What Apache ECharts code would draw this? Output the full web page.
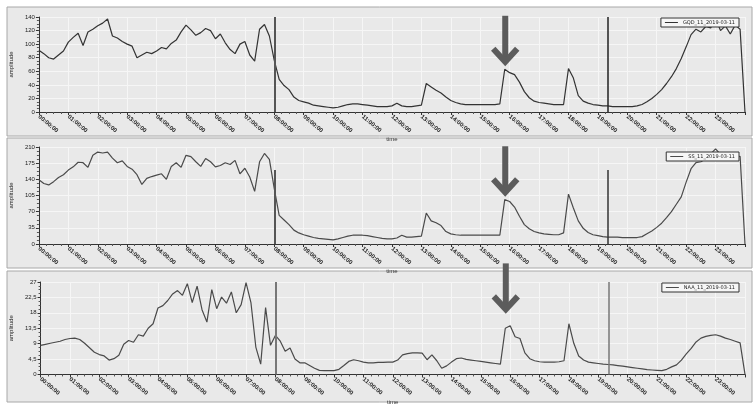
<!DOCTYPE html>
<html>
<head>
<meta charset="utf-8">
<script src="https://cdn.jsdelivr.net/npm/echarts@6/dist/echarts.min.js"></script>
<style>
  html, body { margin: 0; background: #fff; }
  #chart { width: 755px; height: 406px; }
</style>
</head>
<body>
<div id="chart"></div>
<script>
// station names shown in the legends
const seriesNames = ['GQD_11_2019-03-11', 'SS_11_2019-03-11', 'NAA_11_2019-03-11']

// one sample every 10 minutes, 00:00 .. 24:00
const stepHours = 1 / 6

const gqd = [
  91, 86, 80, 78, 84, 90,
  103, 110, 116, 98, 118, 122,
  127, 131, 137, 112, 109, 104,
  100, 97, 80, 84, 88, 86,
  90, 95, 93, 101, 106, 118,
  128, 121, 113, 117, 123, 120,
  108, 115, 102, 92, 86, 100,
  104, 84, 75, 122, 129, 112,
  76, 48, 39, 33, 22, 17,
  15, 13, 10, 9, 8, 7,
  6, 7, 9, 11, 12, 12,
  11, 10, 9, 8, 8, 8,
  9, 13, 9, 8, 8, 9,
  10, 42, 37, 32, 28, 22,
  17, 14, 12, 11, 11, 11,
  11, 11, 11, 11, 12, 63,
  58, 55, 44, 30, 21, 16,
  14, 13, 12, 11, 11, 11,
  64, 50, 24, 16, 13, 11,
  10, 9, 9, 8, 8, 8,
  8, 8, 9, 11, 15, 20,
  26, 33, 42, 52, 64, 79,
  96, 114, 122, 118, 126, 124,
  138, 120, 127, 115, 128, 122,
  0
]

const ss = [
  139, 131, 128, 135, 144, 150,
  160, 167, 177, 176, 166, 192,
  199, 197, 199, 186, 176, 180,
  168, 162, 150, 129, 142, 146,
  149, 152, 140, 168, 176, 166,
  192, 189, 178, 168, 185, 178,
  167, 170, 176, 172, 181, 152,
  164, 145, 114, 178, 196, 183,
  120, 62, 52, 42, 30, 24,
  20, 17, 14, 12, 11, 10,
  9, 11, 14, 17, 19, 19,
  19, 18, 16, 14, 12, 11,
  11, 13, 19, 15, 15, 16,
  17, 67, 50, 46, 40, 27,
  22, 20, 19, 19, 19, 19,
  19, 19, 19, 19, 19, 96,
  92, 80, 60, 42, 33, 27,
  24, 22, 21, 20, 20, 24,
  108, 78, 50, 34, 25, 20,
  18, 16, 15, 15, 15, 14,
  14, 14, 14, 16, 22, 28,
  36, 45, 57, 70, 86, 102,
  134, 163, 176, 178, 184, 195,
  206, 194, 190, 191, 188, 190,
  0
]

const naa = [
  8.5, 8.8, 9.1, 9.4, 9.7, 10.2,
  10.5, 10.6, 10.2, 9.1, 7.8, 6.5,
  5.8, 5.4, 4.2, 4.6, 5.6, 8.8,
  9.9, 9.4, 11.6, 11.2, 13.5, 14.8,
  19.4, 20.1, 21.6, 23.5, 24.5, 23.1,
  26.5, 21.0, 25.8, 18.9, 15.3, 24.8,
  19.2, 22.6, 20.8, 24.1, 18.0, 20.4,
  26.8, 21.0, 8.0, 3.0, 19.5, 8.5,
  11.4, 9.7, 6.8, 7.7, 4.5, 3.4,
  3.4, 2.6, 1.8, 1.2, 1.1, 1.1,
  1.1, 1.5, 2.6, 3.8, 4.3, 4.0,
  3.6, 3.4, 3.4, 3.5, 3.5, 3.6,
  3.6, 4.2, 5.7, 6.1, 6.3, 6.3,
  6.2, 4.3, 5.7, 4.0, 1.8, 2.5,
  3.6, 4.6, 4.8, 4.4, 4.2, 4.0,
  3.8, 3.6, 3.4, 3.2, 3.0, 13.5,
  14.2, 11.0, 10.5, 6.3, 4.6, 4.0,
  3.7, 3.6, 3.6, 3.6, 3.7, 4.0,
  14.8, 9.1, 5.4, 4.2, 3.6, 3.4,
  3.2, 3.0, 2.9, 2.8, 2.6, 2.4,
  2.2, 2.0, 1.8, 1.6, 1.4, 1.3,
  1.2, 1.1, 1.5, 2.2, 2.8, 4.2,
  6.0, 7.6, 9.5, 10.6, 11.1, 11.4,
  11.6, 11.2, 10.6, 10.2, 9.7, 9.2,
  0
]

// y axis ranges
const yMax = [140, 210, 27]
const yStep = [20, 35, 4.5]

// vertical marker times (hours) and how high they reach
const markHours = [8, 19.35]
const markTop = [140, 160, 27]

// time pointed at by the arrows, and the value at the arrow tip
const arrowHour = 15.85
const arrowTip = [74, 112, 19]

const allValues = [gqd, ss, naa]

const chart = echarts.init(document.getElementById('chart'))

const gridTops = [17, 147, 282]
const gridHeights = [95, 97, 95]
const legendTops = [18, 152, 283]
const lineColors = ['#333', '#4a4a4a', '#4a4a4a']
const markColors = [['#555', '#222'], ['#555', '#333'], ['#777', '#777']]

const pad = n => String(n).padStart(2, '0')

const option = {
  animation: false,
  backgroundColor: '#fff',
  graphic: [
    // panel frames
    { type: 'rect', z: -10, shape: { x: 7, y: 7, width: 745, height: 129 }, style: { fill: '#e9e9e9', stroke: '#a8a8a8', lineWidth: 1 } },
    { type: 'rect', z: -10, shape: { x: 7, y: 138, width: 745, height: 130 }, style: { fill: '#e9e9e9', stroke: '#a8a8a8', lineWidth: 1 } },
    { type: 'rect', z: -10, shape: { x: 7, y: 271, width: 745, height: 131 }, style: { fill: '#e9e9e9', stroke: '#a8a8a8', lineWidth: 1 } }
  ],
  grid: gridTops.map((top, i) => ({
    left: 32, top: top, width: 713, height: gridHeights[i],
    show: true, backgroundColor: '#e9e9e9', borderWidth: 0
  })),
  legend: seriesNames.map((name, i) => ({
    data: [name],
    right: 16,
    top: legendTops[i],
    orient: 'horizontal',
    icon: 'rect',
    itemWidth: 13,
    itemHeight: 1,
    itemGap: 2,
    padding: [2, 4],
    backgroundColor: '#f6f6f6',
    borderColor: '#333',
    borderWidth: 1,
    textStyle: { fontSize: 5, color: '#222', fontFamily: 'DejaVu Sans' }
  })),
  xAxis: gridTops.map((t, i) => ({
    type: 'value',
    gridIndex: i,
    min: 0,
    max: 24,
    interval: 1,
    name: 'time',
    nameLocation: 'middle',
    nameGap: 20,
    nameTextStyle: { fontSize: 6, color: '#333' },
    axisLine: { lineStyle: { color: '#333', width: 1 } },
    axisTick: { show: true, length: 3, lineStyle: { color: '#333' } },
    minorTick: { show: true, splitNumber: 4, length: 2, lineStyle: { color: '#555' } },
    axisLabel: {
      rotate: -40,
      fontSize: 6,
      color: '#222',
      fontWeight: 'bold',
      margin: 4,
      formatter: v => (v < 24 ? pad(v) + ':00:00' : '')
    },
    splitLine: { show: true, lineStyle: { color: '#f6f6f6', width: 1 } }
  })),
  yAxis: gridTops.map((t, i) => ({
    type: 'value',
    gridIndex: i,
    min: 0,
    max: yMax[i],
    interval: yStep[i],
    name: 'amplitude',
    nameLocation: 'middle',
    nameRotate: 90,
    nameGap: 16,
    nameTextStyle: { fontSize: 6, color: '#222' },
    axisLine: { show: true, lineStyle: { color: '#333', width: 1 } },
    axisTick: { show: true, length: 3, lineStyle: { color: '#333' } },
    minorTick: { show: true, splitNumber: 4, length: 2, lineStyle: { color: '#555' } },
    axisLabel: {
      fontSize: 6,
      color: '#222',
      margin: 4,
      formatter: v => String(v).replace('.', ',')
    },
    splitLine: { show: true, lineStyle: { color: '#f6f6f6', width: 1 } }
  })),
  series: allValues.map((vals, i) => ({
    name: seriesNames[i],
    type: 'line',
    xAxisIndex: i,
    yAxisIndex: i,
    symbol: 'none',
    clip: true,
    lineStyle: { color: lineColors[i], width: 1.2 },
    itemStyle: { color: lineColors[i] },
    data: vals.map((v, k) => [k * stepHours, v]),
    markLine: {
      symbol: 'none',
      silent: true,
      label: { show: false },
      data: markHours.map((h, m) => [
        { coord: [h, 0], lineStyle: { color: markColors[i][m], width: m === 0 ? 2 : 1.5, type: 'solid' } },
        { coord: [h, markTop[i]] }
      ])
    }
  }))
}

chart.setOption(option)

// arrows pointing at the morning peak, placed through each grid's scales
const arrows = []
arrowTip.forEach((v, i) => {
  const tip = chart.convertToPixel({ gridIndex: i }, [arrowHour, v])
  const shaftTop = tip[1] - 46
  arrows.push({
    type: 'polyline',
    z: 100,
    shape: { points: [[tip[0], shaftTop], [tip[0], tip[1] - 2]] },
    style: { stroke: '#5c5c5c', lineWidth: 6, fill: null }
  })
  arrows.push({
    type: 'polyline',
    z: 100,
    shape: { points: [[tip[0] - 12, tip[1] - 13], [tip[0], tip[1]], [tip[0] + 12, tip[1] - 13]] },
    style: { stroke: '#5c5c5c', lineWidth: 6, fill: null, lineJoin: 'miter' }
  })
})
chart.setOption({ graphic: option.graphic.concat(arrows) })
</script>
</body>
</html>
